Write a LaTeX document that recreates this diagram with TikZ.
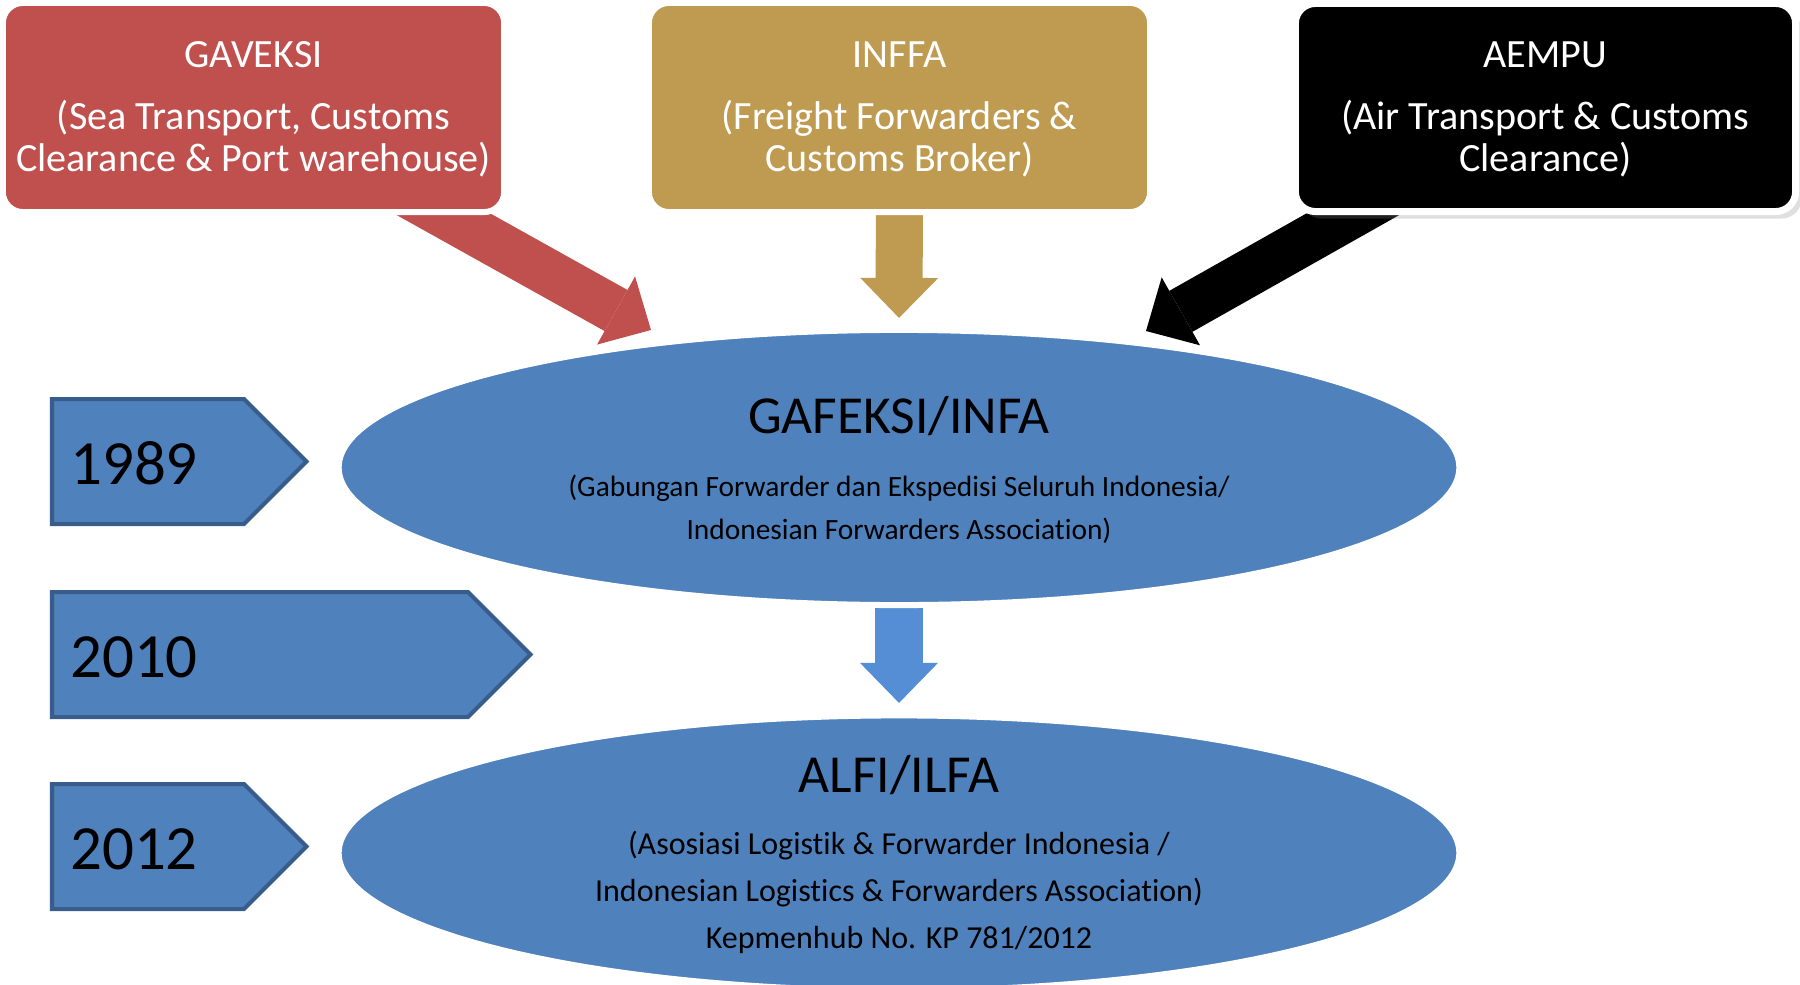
\documentclass[tikz,border=0pt]{standalone}
\usepackage{fontspec}
\setmainfont{Carlito}[Ligatures=NoCommon]
\usetikzlibrary{arrows.meta,shapes.geometric,shadows}
\pgfdeclarelayer{back}
\pgfsetlayers{back,main}
\definecolor{redbox}{HTML}{C0504D}
\definecolor{goldbox}{HTML}{BF9B52}
\definecolor{blueell}{HTML}{4F81BD}
\definecolor{blueedge}{HTML}{385D8A}
\definecolor{bluearr}{HTML}{558ED5}
\newcommand{\tallrow}{\rule{0pt}{8.6pt}}
\begin{document}
\begin{tikzpicture}[x=0.01cm, y=-0.01cm,
    orgbox/.style={rectangle, rounded corners=0.2cm, draw=white, line width=0.06cm, outer sep=0pt,
        minimum width=5.01cm, minimum height=2.09cm, align=center, text=white,
        font=\fontsize{11.4}{11.9}\selectfont},
    era/.style={ellipse, draw=white, line width=0.06cm, fill=blueell, outer sep=0pt,
        minimum width=11.2cm, minimum height=2.75cm},
    fat/.style={line width=0.47cm, -{Triangle[width=0.78cm, length=0.4cm, line width=0pt]}},
    yearbox/.style={draw=blueedge, fill=blueell, line width=0.04cm}]
    \useasboundingbox (0,0) rectangle (1800,985);
    \node[orgbox, fill=redbox] (gaveksi) at (253.5,107.5) {\tallrow GAVEKSI\\[5.7pt](Sea Transport, Customs\\Clearance \& Port warehouse)};
    \node[orgbox, fill=goldbox] (inffa) at (899.5,107.5) {\tallrow INFFA\\[5.7pt](Freight Forwarders \&\\Customs Broker)};
    \node[orgbox, fill=black, line width=0.07cm, minimum width=5cm, minimum height=2.08cm,
        drop shadow={shadow xshift=0.06cm, shadow yshift=-0.07cm, opacity=0.25}] (aempu) at (1545.5,107.5) {\tallrow AEMPU\\[5.7pt](Air Transport \& Customs\\Clearance)};
    \node[era] (gafeksi) at (899,467.5) {}; % 1989
    \node[era] (alfi) at (899,853) {}; % 2012
    \node[anchor=base, font=\fontsize{15.2}{18}\selectfont] (gafeksiT) at (899,433) {GAFEKSI/INFA};
    \node[anchor=base, font=\fontsize{8.36}{10}\selectfont] (gafeksiA) at (899,496) {(Gabungan Forwarder dan Ekspedisi Seluruh Indonesia/};
    \node[anchor=base, font=\fontsize{8.36}{10}\selectfont] (gafeksiB) at (899,539) {Indonesian Forwarders Association)};
    \node[anchor=base, font=\fontsize{15.2}{18}\selectfont] (alfiT) at (899,792) {ALFI/ILFA};
    \foreach \txt/\yy [count=\i] in {{(Asosiasi Logistik \& Forwarder Indonesia /}/854, {Indonesian Logistics \& Forwarders Association)}/901, {Kepmenhub No. KP 781/2012}/948}
        \node[anchor=base, font=\fontsize{9.1}{11}\selectfont] (alfi\i) at (899,\yy) {\txt};
    \begin{pgfonlayer}{back}
        \draw[fat, redbox] ([shift={(-122,-32)}]gaveksi.south east) -- ([shift={(-248,-137.5)}]gafeksi.center);
        \draw[fat, goldbox] ([yshift=0.3cm]inffa.south) -- ([yshift=0.12cm]gafeksi.north);
        \draw[fat, black] ([shift={(118,-31.5)}]aempu.south west) -- ([shift={(247,-136.5)}]gafeksi.center);
        \draw[fat, bluearr] ([yshift=0.3cm]gafeksi.south) -- ([yshift=0.125cm]alfi.north);
    \end{pgfonlayer}
    \foreach \yr/\yy/\len in {1989/399/192, 2010/592/416, 2012/784/192}{
        \draw[yearbox] (52,\yy) -- ++(\len,0) -- ++(62.5,62.5) -- ++(-62.5,62.5) -- ++(-\len,0) -- cycle;
        \node[anchor=base west, inner sep=0pt, font=\fontsize{17.9}{22}\selectfont] (y\yr) at (69.5,\yy+85) {\yr};
    }
\end{tikzpicture}
\end{document}
